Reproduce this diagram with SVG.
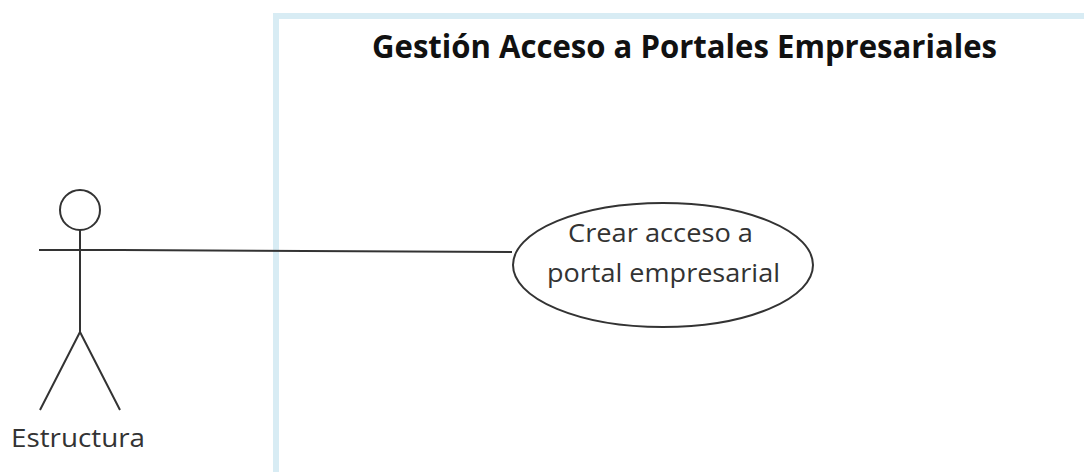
<svg xmlns="http://www.w3.org/2000/svg" width="1084" height="472" viewBox="0 0 1084 472">
<style>
.ln{stroke:#333;stroke-width:2;fill:none}
.t{font-family:"Open Sans","Liberation Sans",sans-serif;fill:#333}
</style>
<rect width="1084" height="472" fill="#fff"/>
<g id="boundary">
<path d="M276,480 V16 H1100" fill="none" stroke="#d8ecf4" stroke-width="6"/>
<text class="t" x="684.5" y="58" font-size="32" font-weight="bold" text-anchor="middle" textLength="625" lengthAdjust="spacingAndGlyphs" style="fill:#111">Gestión Acceso a Portales Empresariales</text>
</g>
<g id="connectors">
<line class="ln" x1="120" y1="250" x2="512" y2="252"/>
</g>
<g id="actor">
<circle class="ln" cx="80" cy="210" r="20"/>
<line class="ln" x1="80" y1="230" x2="80" y2="332"/>
<line class="ln" x1="39" y1="250" x2="120" y2="250"/>
<polyline class="ln" points="40,410 80,332 120,410"/>
<text class="t" x="78" y="447" font-size="25" text-anchor="middle" textLength="134" lengthAdjust="spacingAndGlyphs">Estructura</text>
</g>
<g id="usecase">
<ellipse class="ln" cx="663" cy="265" rx="150" ry="62" fill="#fff"/>
<text class="t" x="660.5" y="242" font-size="26" text-anchor="middle" textLength="185" lengthAdjust="spacingAndGlyphs">Crear acceso a</text>
<text class="t" x="663.5" y="282" font-size="26" text-anchor="middle" textLength="233" lengthAdjust="spacingAndGlyphs">portal empresarial</text>
</g>
</svg>
